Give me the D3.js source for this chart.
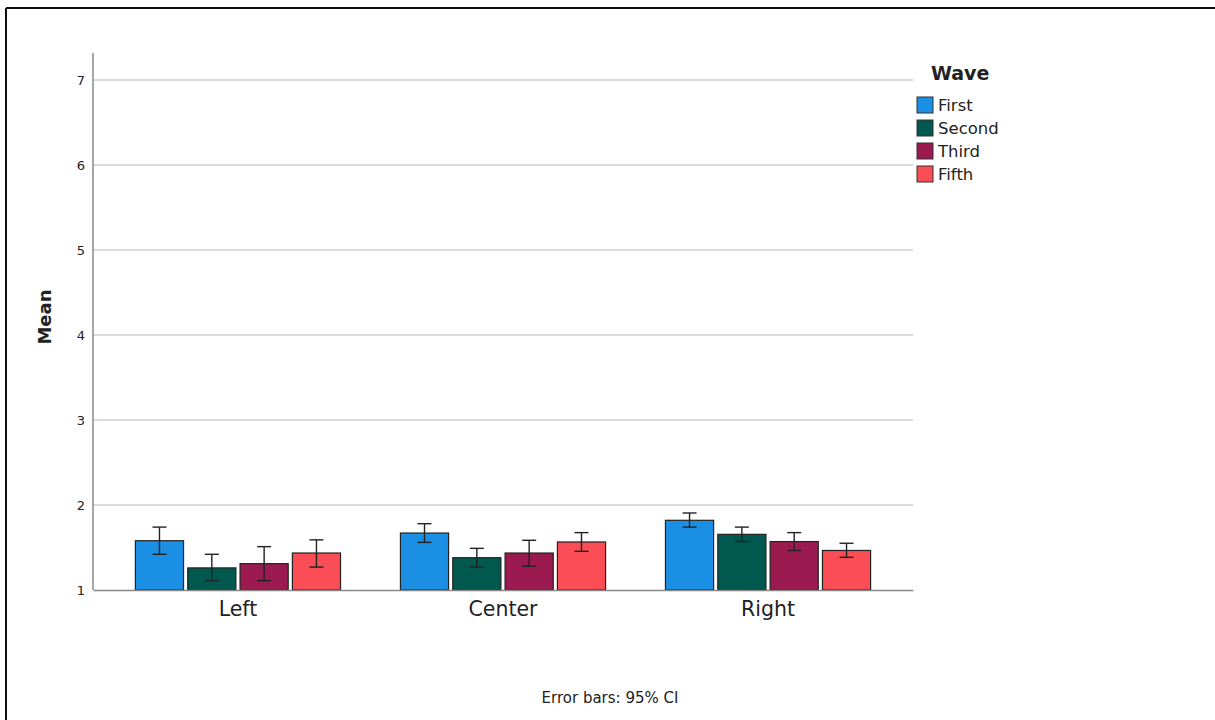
<!DOCTYPE html>
<html>
<head>
<meta charset="utf-8">
<script src="https://cdn.jsdelivr.net/npm/d3@7"></script>
<style>
  html, body { margin: 0; padding: 0; background: #fff; }
  svg { display: block; }
  text { font-family: "DejaVu Sans", "Open Sans", sans-serif; fill: #222; }
</style>
</head>
<body>
<svg id="chart" width="1215" height="720"></svg>
<script>
const categories = ["Left", "Center", "Right"];
const waves = ["First", "Second", "Third", "Fifth"];
const waveColors = ["#1a8fe3", "#00584f", "#9b1a4f", "#fa4d56"];
// means per category, ordered by wave
const meanFirst  = [1.58, 1.67, 1.82];
const meanSecond = [1.26, 1.38, 1.655];
const meanThird  = [1.31, 1.435, 1.57];
const meanFifth  = [1.435, 1.565, 1.465];
// 95% CI lower / upper
const lowFirst  = [1.42, 1.56, 1.74];
const highFirst = [1.74, 1.78, 1.906];
const lowSecond  = [1.11, 1.27, 1.57];
const highSecond = [1.42, 1.49, 1.74];
const lowThird  = [1.11, 1.28, 1.465];
const highThird = [1.51, 1.585, 1.675];
const lowFifth  = [1.27, 1.455, 1.385];
const highFifth = [1.59, 1.675, 1.55];
const yTicks = [1, 2, 3, 4, 5, 6, 7];

const means = [meanFirst, meanSecond, meanThird, meanFifth];
const lows = [lowFirst, lowSecond, lowThird, lowFifth];
const highs = [highFirst, highSecond, highThird, highFifth];

const data = [];
categories.forEach((c, ci) => {
  waves.forEach((w, wi) => {
    data.push({ cat: c, wave: w, mean: means[wi][ci], lo: lows[wi][ci], hi: highs[wi][ci], color: waveColors[wi] });
  });
});

const svg = d3.select("#chart");

// outer frame (top + left)
svg.append("line").attr("x1", 6).attr("x2", 1215).attr("y1", 8).attr("y2", 8)
  .attr("stroke", "#111").attr("stroke-width", 2);
svg.append("line").attr("x1", 6).attr("x2", 6).attr("y1", 8).attr("y2", 720)
  .attr("stroke", "#111").attr("stroke-width", 2);

const x0 = d3.scaleBand().domain(categories).range([93, 913]).paddingInner(0.226).paddingOuter(0.16);
const x1 = d3.scaleBand().domain(waves).range([0, x0.bandwidth()]).paddingInner(0.08);
const y = d3.scaleLinear().domain([1, 7]).range([590, 80]);

// gridlines
svg.append("g").selectAll("line").data(yTicks.filter(t => t > 1)).join("line")
  .attr("x1", 93).attr("x2", 913)
  .attr("y1", d => y(d)).attr("y2", d => y(d))
  .attr("stroke", "#cfcfcf").attr("stroke-width", 1.5);

// y axis
const yAxis = svg.append("g").attr("transform", "translate(93,0)")
  .call(d3.axisLeft(y).tickValues(yTicks).tickSize(0).tickPadding(8).tickFormat(d3.format("d")));
yAxis.select(".domain").remove();
yAxis.selectAll("text").style("font-size", "13px").attr("fill", "#222");
svg.append("line").attr("x1", 93).attr("x2", 93).attr("y1", 53).attr("y2", 590)
  .attr("stroke", "#888").attr("stroke-width", 1.5);

// bars
const bars = svg.append("g");
bars.selectAll("rect").data(data).join("rect")
  .attr("x", d => x0(d.cat) + x1(d.wave))
  .attr("width", x1.bandwidth())
  .attr("y", d => y(d.mean))
  .attr("height", d => y(1) - y(d.mean))
  .attr("fill", d => d.color)
  .attr("stroke", "#222").attr("stroke-width", 1.2);

// x axis line
const xAxis = svg.append("g").attr("transform", "translate(0,590)")
  .call(d3.axisBottom(x0).tickSize(0).tickPadding(11));
xAxis.select(".domain").attr("stroke", "#888").attr("stroke-width", 1.5);
xAxis.selectAll("text").style("font-size", "20.5px").attr("fill", "#222");

// error bars
const eb = svg.append("g").attr("stroke", "#222").attr("stroke-width", 1.4);
data.forEach(d => {
  const cx = x0(d.cat) + x1(d.wave) + x1.bandwidth() / 2;
  eb.append("line").attr("x1", cx).attr("x2", cx).attr("y1", y(d.hi)).attr("y2", y(d.lo));
  eb.append("line").attr("x1", cx - 7).attr("x2", cx + 7).attr("y1", y(d.hi)).attr("y2", y(d.hi));
  eb.append("line").attr("x1", cx - 7).attr("x2", cx + 7).attr("y1", y(d.lo)).attr("y2", y(d.lo));
});

// y axis title
svg.append("text").attr("transform", "translate(51,317) rotate(-90)")
  .attr("text-anchor", "middle").style("font-size", "18px").style("font-weight", "bold").text("Mean");

// legend
const lg = svg.append("g");
lg.append("text").attr("x", 931).attr("y", 80).style("font-size", "19px").style("font-weight", "bold").text("Wave");
waves.forEach((w, i) => {
  lg.append("rect").attr("x", 917).attr("y", 97 + i * 23).attr("width", 16).attr("height", 16)
    .attr("fill", waveColors[i]).attr("stroke", "#333").attr("stroke-width", 1);
  lg.append("text").attr("x", 938).attr("y", 111 + i * 23).style("font-size", "16.5px").text(w);
});

// footnote
svg.append("text").attr("x", 610).attr("y", 703).attr("text-anchor", "middle")
  .style("font-size", "15px").text("Error bars: 95% CI");
</script>
</body>
</html>
